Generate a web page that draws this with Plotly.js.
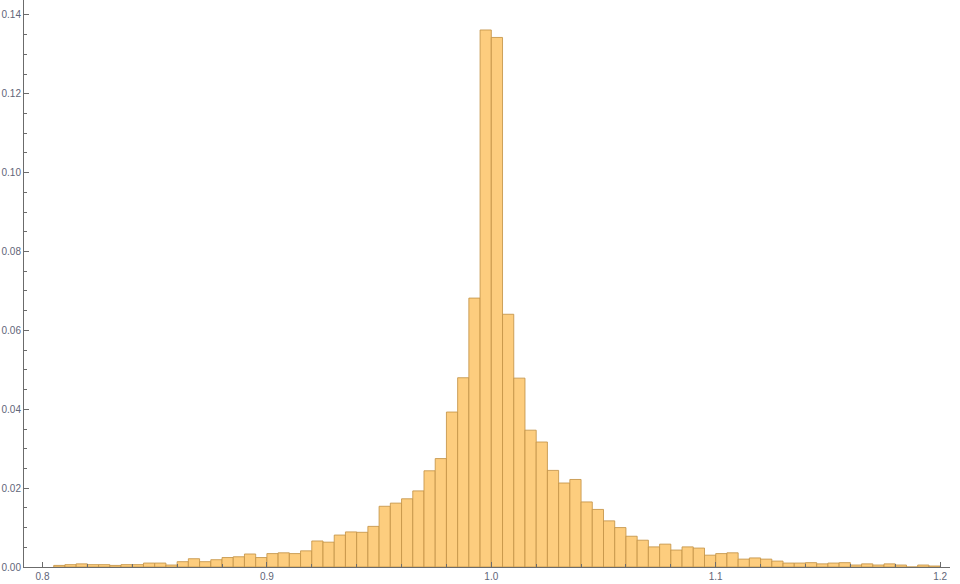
<!DOCTYPE html>
<html>
<head>
<meta charset="utf-8">
<script src="https://cdn.plot.ly/plotly-3.0.1.min.js"></script>
<style>html,body{margin:0;padding:0;background:#fff;}#chart{width:960px;height:584px;}</style>
</head>
<body>
<div id="chart"></div>
<script>
// Bin lower edges (bin width 0.005)
const binStarts = [
  0.805,0.810,0.815,0.820,0.825,0.830,0.835,0.840,0.845,0.850,
  0.855,0.860,0.865,0.870,0.875,0.880,0.885,0.890,0.895,0.900,
  0.905,0.910,0.915,0.920,0.925,0.930,0.935,0.940,0.945,0.950,
  0.955,0.960,0.965,0.970,0.975,0.980,0.985,0.990,0.995,1.000,
  1.005,1.010,1.015,1.020,1.025,1.030,1.035,1.040,1.045,1.050,
  1.055,1.060,1.065,1.070,1.075,1.080,1.085,1.090,1.095,1.100,
  1.105,1.110,1.115,1.120,1.125,1.130,1.135,1.140,1.145,1.150,
  1.155,1.160,1.165,1.170,1.175,1.180,1.185,1.190,1.195
];
const binWidth = 0.005;
// Probability per bin
const probabilities = [
  0.0004,0.0006,0.0008,0.0006,0.0006,0.0004,0.0006,0.0006,0.0010,0.0010,
  0.0005,0.00135,0.0021,0.00135,0.00185,0.0024,0.0026,0.0033,0.0024,0.0034,
  0.0036,0.0034,0.0041,0.0066,0.0063,0.0081,0.0089,0.0088,0.0103,0.0154,
  0.0162,0.0173,0.0193,0.0244,0.0275,0.0393,0.0480,0.0682,0.1362,0.1343,
  0.0641,0.0479,0.0347,0.0317,0.0245,0.0213,0.0222,0.0165,0.0146,0.0117,
  0.0100,0.0078,0.0068,0.0051,0.0058,0.0043,0.0051,0.0048,0.0030,0.0034,
  0.0036,0.0020,0.0023,0.0020,0.0015,0.0010,0.0010,0.0011,0.0008,0.0010,
  0.0011,0.0005,0.0008,0.0005,0.0008,0.0005,0.0000,0.0005,0.00025
];
const xTickVals = [0.8,0.9,1.0,1.1,1.2];
const xTickText = ["0.8","0.9","1.0","1.1","1.2"];
const yTickVals = [0,0.02,0.04,0.06,0.08,0.10,0.12,0.14];
const yTickText = ["0.00","0.02","0.04","0.06","0.08","0.10","0.12","0.14"];

const trace = {
  type: 'bar',
  x: binStarts,
  y: probabilities,
  width: binWidth,
  offset: 0,
  marker: {color: '#fdcd7e', line: {color: 'rgba(196,148,72,0.85)', width: 1}},
  hoverinfo: 'x+y'
};

const axisColor = '#6b6b6b';
const tickFont = {family: 'Liberation Sans, Arial, sans-serif', size: 10, color: '#5f6578'};

const layout = {
  width: 960, height: 584,
  margin: {l: 24, r: 10, t: 0, b: 17, pad: 0, autoexpand: false},
  paper_bgcolor: '#ffffff', plot_bgcolor: '#ffffff',
  showlegend: false,
  bargap: 0,
  xaxis: {
    automargin: false,
    range: [0.79176, 1.2044],
    showgrid: false, zeroline: false,
    showline: true, linecolor: axisColor, linewidth: 1,
    ticks: 'inside', ticklen: 5, tickcolor: axisColor, tickwidth: 1,
    tickvals: xTickVals, ticktext: xTickText,
    tickfont: tickFont,
    minor: {dtick: 0.02, tick0: 0.8, ticks: 'inside', ticklen: 3, tickcolor: axisColor, showgrid: false}
  },
  yaxis: {
    automargin: false,
    range: [0, 0.1438],
    showgrid: false, zeroline: false,
    showline: true, linecolor: axisColor, linewidth: 1,
    ticks: 'inside', ticklen: 5, tickcolor: axisColor, tickwidth: 1,
    tickvals: yTickVals, ticktext: yTickText,
    tickfont: tickFont,
    minor: {dtick: 0.005, tick0: 0, ticks: 'inside', ticklen: 3, tickcolor: axisColor, showgrid: false}
  }
};

Plotly.newPlot('chart', [trace], layout, {displayModeBar: false, staticPlot: true});
</script>
</body>
</html>
